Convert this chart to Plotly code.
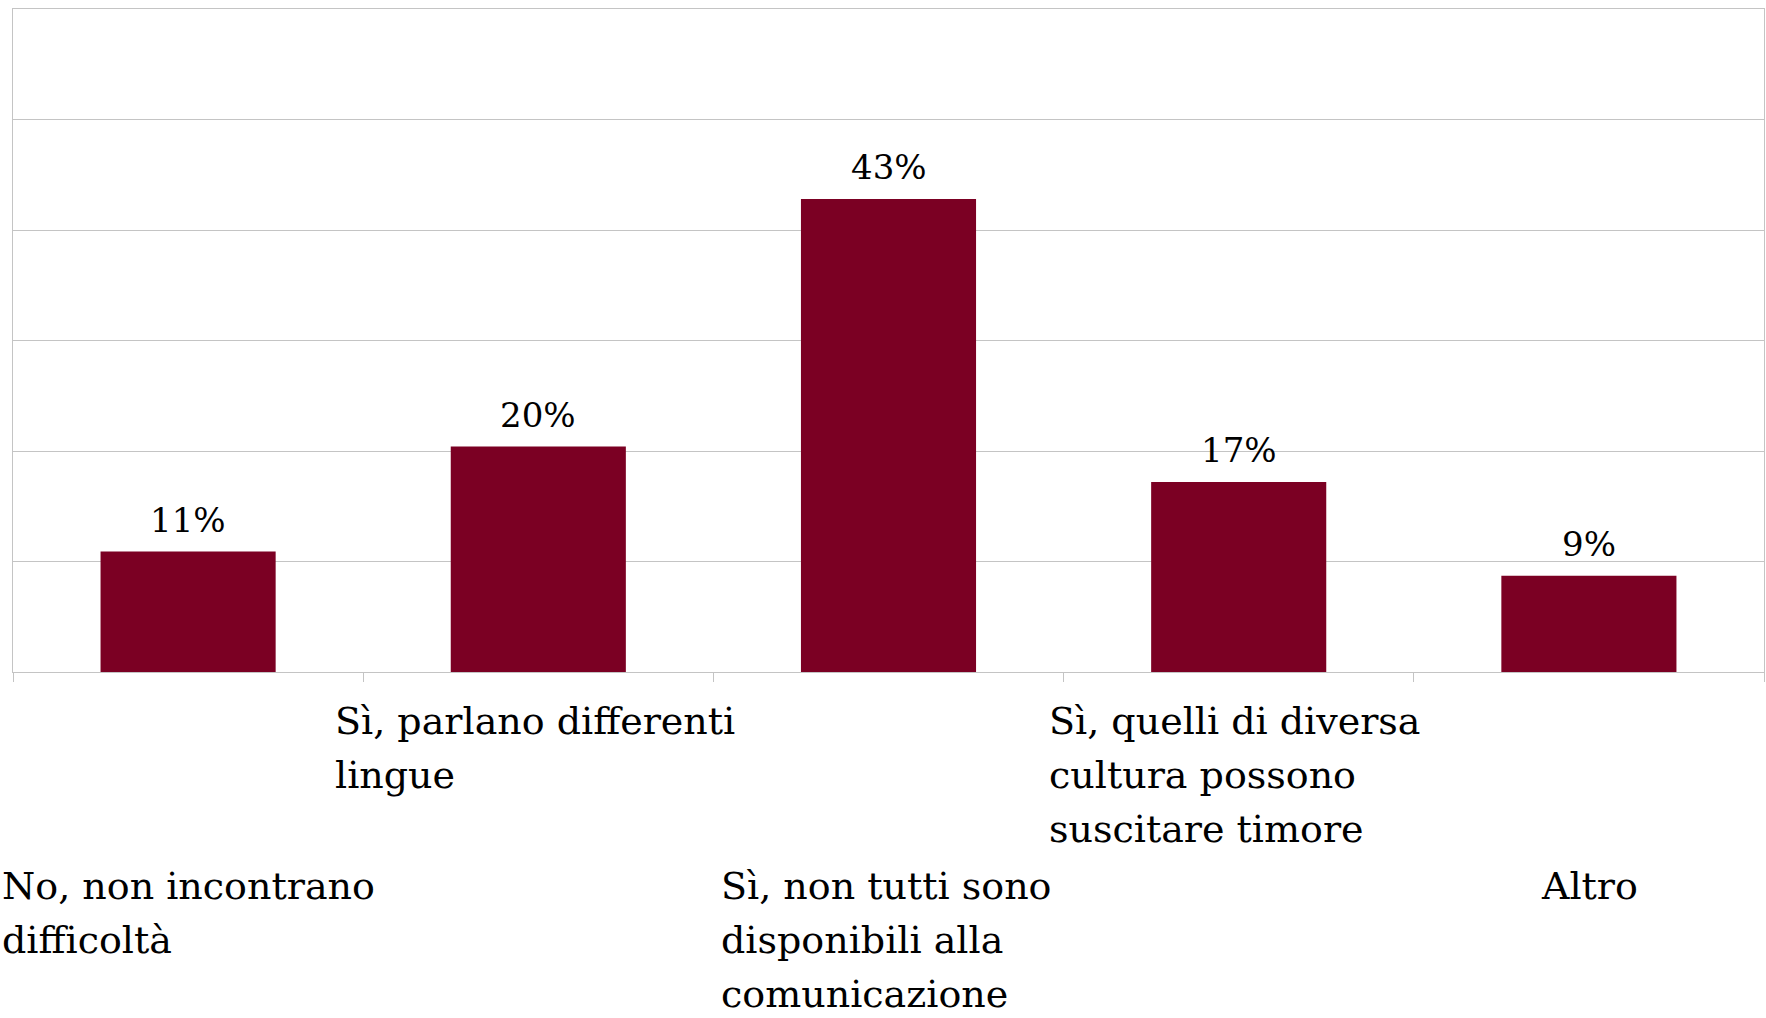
import plotly.graph_objects as go

categories = [
    "No, non incontrano<br>difficoltà",
    "Sì, parlano differenti<br>lingue",
    "Sì, non tutti sono<br>disponibili alla<br>comunicazione",
    "Sì, quelli di diversa<br>cultura possono<br>suscitare timore",
    "Altro",
]
values = [10.9, 20.4, 42.8, 17.2, 8.7]
value_labels = ["11%", "20%", "43%", "17%", "9%"]

BAR_COLOR = "#7B0023"
GRID = "#c4c4c4"
FONT = "DejaVu Serif"
# approximate width (px) of each wrapped label block, for centring left-aligned lines
label_block_width = [377, 410, 340, 383, 99]

fig = go.Figure(
    go.Bar(
        x=list(range(len(categories))),
        y=values,
        marker=dict(color=BAR_COLOR, line=dict(width=0)),
        width=0.5,
        hoverinfo="skip",
    )
)

# value labels above bars
for i, (v, lab) in enumerate(zip(values, value_labels)):
    fig.add_annotation(
        x=i, y=v, xref="x", yref="y", text=lab, showarrow=False,
        yanchor="bottom", yshift=10,
        font=dict(family=FONT, size=34, color="black"),
    )

# staggered category labels (two rows), one annotation per line for Excel-like spacing
LINE_H = 54
for i, cat in enumerate(categories):
    first = -49 if i % 2 == 1 else -214
    for k, line in enumerate(cat.split("<br>")):
        fig.add_annotation(
            x=i, y=0, xref="x", yref="paper", text=line, showarrow=False,
            xanchor="left", yanchor="middle", align="left",
            xshift=-label_block_width[i] / 2, yshift=first - k * LINE_H,
            font=dict(family=FONT, size=38, color="black"),
        )

fig.update_layout(
    width=1766, height=1018,
    margin=dict(l=13, r=2, t=9, b=346),
    paper_bgcolor="white", plot_bgcolor="white",
    showlegend=False, bargap=0.5,
)
fig.update_xaxes(
    type="linear", range=[-0.5, 4.5],
    tickmode="array", tickvals=[-0.5, 0.5, 1.5, 2.5, 3.5, 4.5],
    showticklabels=False, ticks="outside", ticklen=9, tickcolor=GRID, tickwidth=1,
    showgrid=False, zeroline=False,
    showline=True, linecolor=GRID, linewidth=1, mirror=True,
)
fig.update_yaxes(
    range=[0, 60], dtick=10, showticklabels=False, ticks="",
    showgrid=True, gridcolor=GRID, gridwidth=1, zeroline=False,
    showline=True, linecolor=GRID, linewidth=1, mirror=True,
)

fig.write_html(
    "out.html",
    config={"displayModeBar": False},
    post_script="document.body.style.margin='0';document.body.style.overflow='hidden';",
)
